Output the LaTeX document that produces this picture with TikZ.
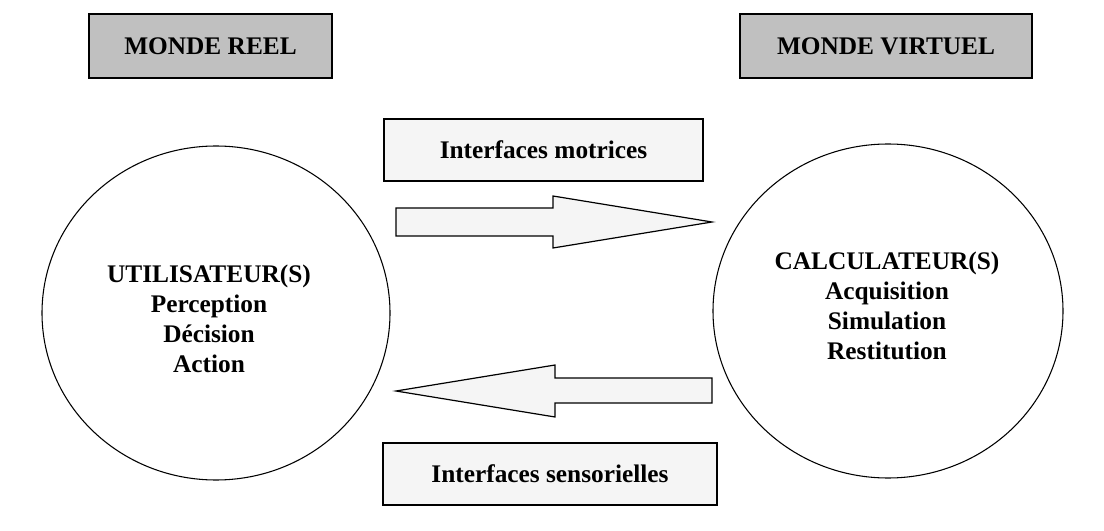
\documentclass[tikz,border=0pt]{standalone}
\usepackage{fontspec}
\setmainfont{Liberation Serif}
\usepackage{tikz}

\definecolor{mondegray}{HTML}{C0C0C0}
\definecolor{interfill}{HTML}{F5F5F5}

\begin{document}
\begin{tikzpicture}[x=0.75pt,y=0.75pt,yscale=-1,xscale=1,
    mondebox/.style={draw,line width=1pt,fill=mondegray,minimum height=48pt,inner sep=0pt,font=\fontsize{19}{22.5}\selectfont\bfseries},
    interbox/.style={draw,line width=0.9pt,fill=interfill,minimum height=46.5pt,inner sep=0pt,font=\fontsize{19}{22.5}\selectfont\bfseries},
    blockarrow/.style={draw,line width=0.9pt,fill=interfill},
    bigtext/.style={align=center,inner sep=0pt,font=\fontsize{19}{22.5}\selectfont\bfseries}]
    %set diagram size
    \path[use as bounding box] (0,0) rectangle (1104,531);

    %Shape: Rectangle MONDE REEL
    \node[mondebox,minimum width=182.25pt] (reel) at (210.5,46) {MONDE REEL};
    %Shape: Rectangle MONDE VIRTUEL
    \node[mondebox,minimum width=219pt] (virtuel) at (886,46) {MONDE VIRTUEL};

    %Shape: Rectangle interfaces motrices
    \node[interbox,minimum width=239.25pt] (motrices) at (543.5,150) {Interfaces motrices};
    %Shape: Rectangle interfaces sensorielles
    \node[interbox,minimum width=250.5pt] (sensorielles) at (550,474) {Interfaces sensorielles};

    %Shape: Ellipse utilisateur
    \draw[line width=0.8pt] (216,313) ellipse (174 and 167);
    %Shape: Ellipse calculateur
    \draw[line width=0.8pt] (888,311) ellipse (175 and 167);

    %Shape: Block arrow right
    \draw[blockarrow] (396,208) -- (553,208) -- (553,196) -- (712,222) -- (553,248) -- (553,236) -- (396,236) -- cycle ;
    %Shape: Block arrow left
    \draw[blockarrow] (712,378) -- (555,378) -- (555,365) -- (396,391) -- (555,417) -- (555,403) -- (712,403) -- cycle ;

    % Text Node
    \node[bigtext] (user) at (209,319) {UTILISATEUR(S)\\Perception\\D\'ecision\\Action};
    % Text Node
    \node[bigtext] (comp) at (887,306) {CALCULATEUR(S)\\Acquisition\\Simulation\\Restitution};

\end{tikzpicture}
\end{document}
